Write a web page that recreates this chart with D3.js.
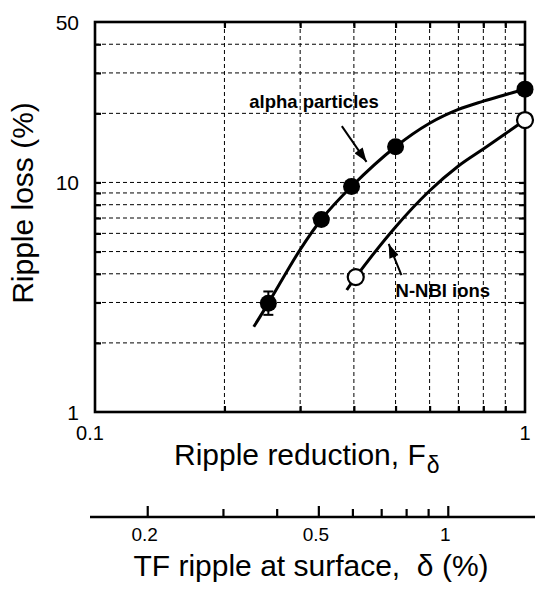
<!DOCTYPE html>
<html>
<head>
<meta charset="utf-8">
<script src="https://cdn.jsdelivr.net/npm/d3@7"></script>
<style>
  body { margin: 0; background: #fff; }
  svg { display: block; font-family: "Liberation Sans", Arial, Helvetica, sans-serif; }
</style>
</head>
<body>
<svg id="chart" width="535" height="590"></svg>
<script>
// measured points: ripple reduction F vs ripple loss (%)
const alphaF = [0.253, 0.336, 0.395, 0.5, 1];
const alphaLoss = [2.98, 6.9, 9.6, 14.3, 25.5];
const alphaErrLow = [2.65, null, null, null, null];
const alphaErrHigh = [3.35, null, null, null, null];
const nnbiF = [0.404, 1];
const nnbiLoss = [3.87, 18.7];

// hand-drawn trend curves as they appear in the figure
const alphaCurveF = [0.234, 0.253, 0.3, 0.336, 0.395, 0.5, 0.6, 0.7, 0.8, 0.9, 1];
const alphaCurveLoss = [2.35, 2.98, 5.1, 6.9, 9.6, 14.3, 18.1, 20.8, 22.6, 24.1, 25.5];
const nnbiCurveF = [0.385, 0.404, 0.5, 0.6, 0.7, 0.8, 0.9, 1];
const nnbiCurveLoss = [3.4, 3.87, 6.4, 9.2, 11.8, 14.0, 16.3, 18.7];

// axes
const xLabels = [0.1, 1];
const yLabels = [1, 10, 50];
const xGrid = [0.2, 0.3, 0.4, 0.5, 0.6, 0.7, 0.8, 0.9];
const yGrid = [2, 3, 4, 5, 6, 7, 8, 9, 10, 20, 30, 40];
const deltaTicks = [0.2, 0.3, 0.4, 0.5, 0.6, 0.7, 0.8, 0.9, 1];
const deltaLabels = [0.2, 0.5, 1];
const deltaPerF = 1.508; // TF ripple at surface per unit F

// annotations (data coords)
const alphaArrow = [[0.375, 17.6], [0.428, 12.3]];
const nnbiArrow = [[0.516, 3.95], [0.482, 5.4]];
const alphaText = [0.2285, 21.1];
const nnbiText = [0.5, 3.17];

const svg = d3.select("#chart");

const x = d3.scaleLog().domain([0.1, 1]).range([95, 525]);
const y = d3.scaleLog().domain([1, 50]).range([412, 22]);
const xd = d3.scaleLog().domain([0.1 * deltaPerF, deltaPerF]).range([95, 525]);

svg.append("defs").append("marker")
  .attr("id", "head")
  .attr("viewBox", "0 0 14 10")
  .attr("refX", 14).attr("refY", 5)
  .attr("markerUnits", "userSpaceOnUse")
  .attr("markerWidth", 15).attr("markerHeight", 10)
  .attr("orient", "auto")
  .append("path").attr("d", "M0,0 L14,5 L0,10 Z").attr("fill", "#000");

// grid
const grid = svg.append("g").attr("stroke", "#000").attr("stroke-width", 1).attr("stroke-dasharray", "4,3");
grid.selectAll(".gx").data(xGrid).join("line")
  .attr("x1", d => x(d)).attr("x2", d => x(d))
  .attr("y1", y(50)).attr("y2", y(1));
grid.selectAll(".gy").data(yGrid).join("line")
  .attr("x1", x(0.1)).attr("x2", x(1))
  .attr("y1", d => y(d)).attr("y2", d => y(d));

// inward ticks on all four sides
const tickLen = 6;
const fmtNone = () => "";
svg.append("g").attr("transform", `translate(0,${y(1)})`)
  .call(d3.axisBottom(x).tickValues(xGrid).tickSize(-tickLen).tickFormat(fmtNone));
svg.append("g").attr("transform", `translate(0,${y(50)})`)
  .call(d3.axisTop(x).tickValues(xGrid).tickSize(-tickLen).tickFormat(fmtNone));
svg.append("g").attr("transform", `translate(${x(0.1)},0)`)
  .call(d3.axisLeft(y).tickValues(yGrid).tickSize(-tickLen).tickFormat(fmtNone));
svg.append("g").attr("transform", `translate(${x(1)},0)`)
  .call(d3.axisRight(y).tickValues(yGrid).tickSize(-tickLen).tickFormat(fmtNone));
svg.selectAll(".domain").remove();
svg.selectAll(".tick line").attr("stroke", "#000").attr("stroke-width", 2.2);

// frame
svg.append("rect")
  .attr("x", x(0.1)).attr("y", y(50))
  .attr("width", x(1) - x(0.1)).attr("height", y(1) - y(50))
  .attr("fill", "none").attr("stroke", "#000").attr("stroke-width", 2.6);

// curves
const line = d3.line().x(d => x(d[0])).y(d => y(d[1])).curve(d3.curveCatmullRom.alpha(0.5));
svg.append("path")
  .datum(alphaCurveF.map((f, i) => [f, alphaCurveLoss[i]]))
  .attr("d", line).attr("fill", "none").attr("stroke", "#000").attr("stroke-width", 3);
svg.append("path")
  .datum(nnbiCurveF.map((f, i) => [f, nnbiCurveLoss[i]]))
  .attr("d", line).attr("fill", "none").attr("stroke", "#000").attr("stroke-width", 3);

// error bar
alphaF.forEach((f, i) => {
  if (alphaErrLow[i] == null) return;
  const g = svg.append("g").attr("stroke", "#000").attr("stroke-width", 2);
  g.append("line").attr("x1", x(f)).attr("x2", x(f)).attr("y1", y(alphaErrLow[i])).attr("y2", y(alphaErrHigh[i]));
  [alphaErrLow[i], alphaErrHigh[i]].forEach(v => {
    g.append("line").attr("x1", x(f) - 5).attr("x2", x(f) + 5).attr("y1", y(v)).attr("y2", y(v));
  });
});

// points
svg.append("g").selectAll("circle")
  .data(alphaF.map((f, i) => [f, alphaLoss[i]]))
  .join("circle")
  .attr("cx", d => x(d[0])).attr("cy", d => y(d[1]))
  .attr("r", 8.5).attr("fill", "#000");
svg.append("g").selectAll("circle")
  .data(nnbiF.map((f, i) => [f, nnbiLoss[i]]))
  .join("circle")
  .attr("cx", d => x(d[0])).attr("cy", d => y(d[1]))
  .attr("r", 8).attr("fill", "#fff").attr("stroke", "#000").attr("stroke-width", 2.2);

// annotations
[alphaArrow, nnbiArrow].forEach(a => {
  svg.append("line")
    .attr("x1", x(a[0][0])).attr("y1", y(a[0][1]))
    .attr("x2", x(a[1][0])).attr("y2", y(a[1][1]))
    .attr("stroke", "#000").attr("stroke-width", 2)
    .attr("marker-end", "url(#head)");
});
svg.append("text").attr("x", x(alphaText[0])).attr("y", y(alphaText[1]))
  .attr("font-size", 18.5).attr("font-weight", "bold").text("alpha particles");
svg.append("text").attr("x", x(nnbiText[0])).attr("y", y(nnbiText[1]))
  .attr("font-size", 18.5).attr("font-weight", "bold").text("N-NBI ions");

// tick labels
svg.append("g").selectAll("text").data(yLabels).join("text")
  .attr("x", 79).attr("y", d => y(d)).attr("dy", "0.36em")
  .attr("text-anchor", "end").attr("font-size", 21).text(d => d);
svg.append("g").selectAll("text").data(xLabels).join("text")
  .attr("x", d => x(d) - (d < 1 ? 5 : 0)).attr("y", 440)
  .attr("text-anchor", "middle").attr("font-size", 20).text(d => d);

// axis titles
svg.append("text")
  .attr("transform", "translate(33,203) rotate(-90)")
  .attr("text-anchor", "middle").attr("font-size", 30).text("Ripple loss (%)");
const xt = svg.append("text").attr("x", 174).attr("y", 465).attr("font-size", 30);
xt.append("tspan").text("Ripple reduction, F");
xt.append("tspan").attr("dx", 1).attr("dy", 8).attr("font-size", 23).text("δ");

// second axis: TF ripple at surface
const dAxis = svg.append("g");
dAxis.append("line").attr("x1", 90).attr("x2", 535).attr("y1", 517).attr("y2", 517)
  .attr("stroke", "#000").attr("stroke-width", 2.6);
dAxis.selectAll(".dt").data(deltaTicks).join("line")
  .attr("x1", d => xd(d)).attr("x2", d => xd(d))
  .attr("y1", 517).attr("y2", d => deltaLabels.includes(d) ? 506 : 509)
  .attr("stroke", "#000").attr("stroke-width", 2.2);
dAxis.selectAll("text").data(deltaLabels).join("text")
  .attr("x", d => xd(d) - 3).attr("y", 541)
  .attr("text-anchor", "middle").attr("font-size", 19).text(d => d);
svg.append("text").attr("x", 311).attr("y", 576)
  .attr("text-anchor", "middle").attr("font-size", 30)
  .style("white-space", "pre").text("TF ripple at surface,  δ (%)");
</script>
</body>
</html>
